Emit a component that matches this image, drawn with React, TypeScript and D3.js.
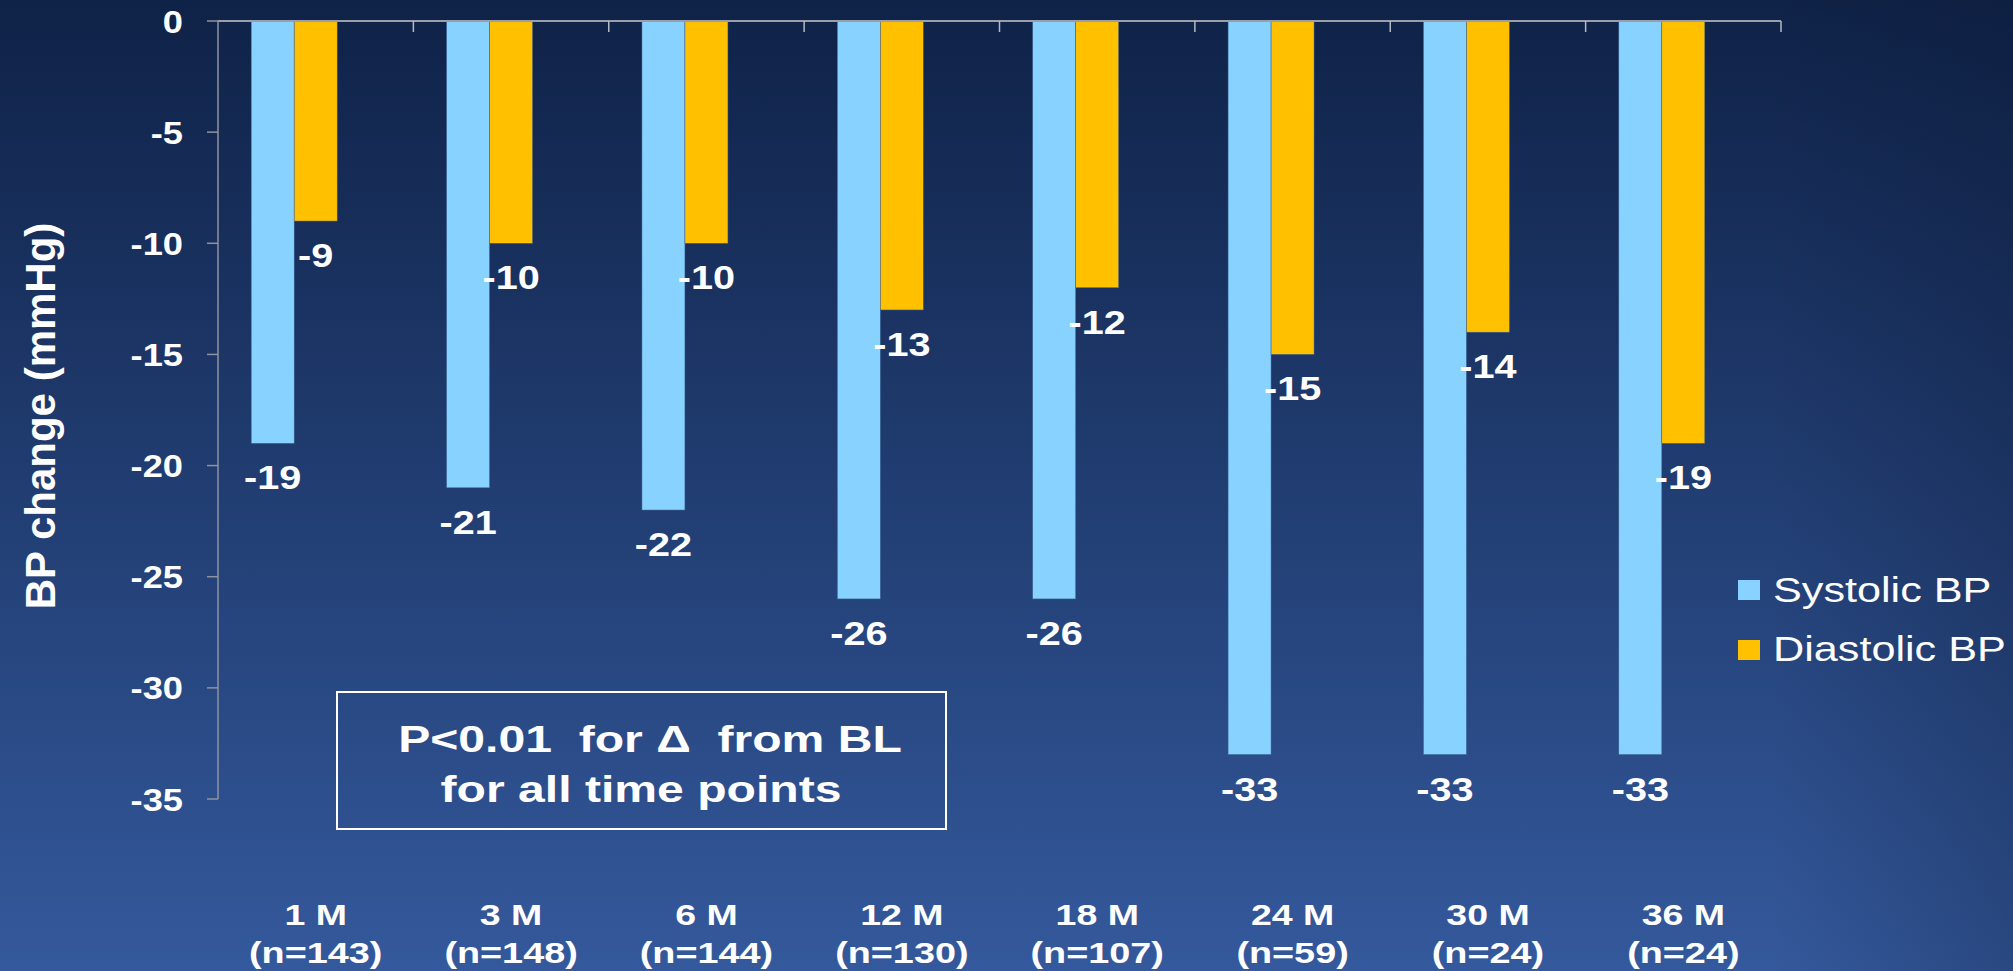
import React from "react";
import * as d3 from "d3";

const categories = ["1 M", "3 M", "6 M", "12 M", "18 M", "24 M", "30 M", "36 M"];
const sampleSizes = ["(n=143)", "(n=148)", "(n=144)", "(n=130)", "(n=107)", "(n=59)", "(n=24)", "(n=24)"];
const systolic = [-19, -21, -22, -26, -26, -33, -33, -33];
const diastolic = [-9, -10, -10, -13, -12, -15, -14, -19];
const seriesNames = ["Systolic BP", "Diastolic BP"];
const slots = ["Systolic BP", "Diastolic BP", "spacer"];
const yTicks = [0, -5, -10, -15, -20, -25, -30, -35];
const noteLines = ["P<0.01  for \u0394  from BL", "for all time points"];
const yTitle = "BP change (mmHg)";

const W = 2013;
const H = 971;
const FONT = "'Liberation Sans', Arial, Helvetica, sans-serif";
const COLORS: Record<string, string> = { "Systolic BP": "#87D2FE", "Diastolic BP": "#FFC000" };

const x0 = d3.scaleBand<string>().domain(categories).range([218, 1781]).paddingInner(0).paddingOuter(0);
const x1 = d3.scaleBand<string>().domain(slots).range([0, x0.bandwidth()]).paddingInner(0).paddingOuter(0.772);
const y = d3.scaleLinear().domain([0, -35]).range([21, 799]);

function SText({ x, y, fs, sx = 1, anchor = "middle", weight = "bold", children }: any) {
  return (
    <text
      transform={`translate(${x},${y}) scale(${sx},1)`}
      fontSize={fs}
      fontFamily={FONT}
      fontWeight={weight}
      fill="#ffffff"
      textAnchor={anchor}
      style={{ whiteSpace: "pre" }}
    >
      {children}
    </text>
  );
}

export default function App() {
  const series = [systolic, diastolic];
  return (
    <svg width={W} height={H} style={{ position: "absolute", left: 0, top: 0, display: "block" }}>
      <defs>
        <linearGradient id="bg" x1="0" y1="0" x2="0" y2="1">
          <stop offset="0%" stopColor="#0f2247" />
          <stop offset="45%" stopColor="#1f3a6d" />
          <stop offset="100%" stopColor="#34599c" />
        </linearGradient>
        <linearGradient id="side" x1="0" y1="0" x2="1" y2="0">
          <stop offset="0%" stopColor="#0a1630" stopOpacity="0" />
          <stop offset="88%" stopColor="#0a1630" stopOpacity="0" />
          <stop offset="100%" stopColor="#0a1630" stopOpacity="0.25" />
        </linearGradient>
      </defs>
      <rect x={0} y={0} width={W} height={H} fill="url(#bg)" />
      <rect x={0} y={0} width={W} height={H} fill="url(#side)" />

      {/* bars */}
      {categories.map((c, i) => (
        <g key={c} transform={`translate(${x0(c)},0)`}>
          {seriesNames.map((s, k) => {
            const v = series[k][i];
            return (
              <rect
                key={s}
                x={x1(s)}
                y={y(0)}
                width={x1.bandwidth()}
                height={y(v) - y(0)}
                fill={COLORS[s]}
                stroke="#3b5f8f"
                strokeWidth={0.5}
              />
            );
          })}
        </g>
      ))}

      {/* axes */}
      <line x1={218} x2={1781} y1={y(0)} y2={y(0)} stroke="#9a9eab" strokeWidth={2} />
      {categories.map((c) => (
        <line key={c} x1={x0(c)! + x0.bandwidth()} x2={x0(c)! + x0.bandwidth()} y1={y(0)} y2={y(0) + 11} stroke="#b5b9c4" strokeWidth={1.5} />
      ))}
      <line x1={218} x2={218} y1={y(0)} y2={y(-35)} stroke="#8e93a2" strokeWidth={1.5} />
      {yTicks.map((t) => (
        <g key={t}>
          <line x1={207} x2={218} y1={y(t)} y2={y(t)} stroke="#8e93a2" strokeWidth={1.5} />
          <SText x={183} y={y(t) + 11.5} fs={31} sx={1.17} anchor="end">
            {String(t)}
          </SText>
        </g>
      ))}

      {/* data labels */}
      {categories.map((c, i) =>
        seriesNames.map((s, k) => {
          const v = series[k][i];
          return (
            <SText key={c + s} x={x0(c)! + x1(s)! + x1.bandwidth() / 2} y={y(v) + 46} fs={33} sx={1.2}>
              {String(v)}
            </SText>
          );
        })
      )}

      {/* category labels */}
      {categories.map((c, i) => (
        <g key={c}>
          <SText x={x0(c)! + x0.bandwidth() / 2} y={925} fs={30} sx={1.25}>
            {c}
          </SText>
          <SText x={x0(c)! + x0.bandwidth() / 2} y={963} fs={30} sx={1.26}>
            {sampleSizes[i]}
          </SText>
        </g>
      ))}

      {/* y title */}
      <text
        transform={`translate(55,416) rotate(-90)`}
        fontSize={42}
        fontFamily={FONT}
        fontWeight="bold"
        fill="#ffffff"
        textAnchor="middle"
      >
        {yTitle}
      </text>

      {/* note box */}
      <rect x={337} y={692} width={609} height={137} fill="none" stroke="#ffffff" strokeWidth={2} />
      <SText x={650} y={752} fs={37} sx={1.3}>
        {noteLines[0]}
      </SText>
      <SText x={641} y={802} fs={37} sx={1.3}>
        {noteLines[1]}
      </SText>

      {/* legend */}
      {seriesNames.map((s, k) => (
        <g key={s}>
          <rect x={1738} y={580 + k * 60} width={22} height={20} fill={COLORS[s]} />
          <SText x={1773} y={602 + k * 59} fs={36} sx={1.2} anchor="start" weight="normal">
            {s}
          </SText>
        </g>
      ))}
    </svg>
  );
}
